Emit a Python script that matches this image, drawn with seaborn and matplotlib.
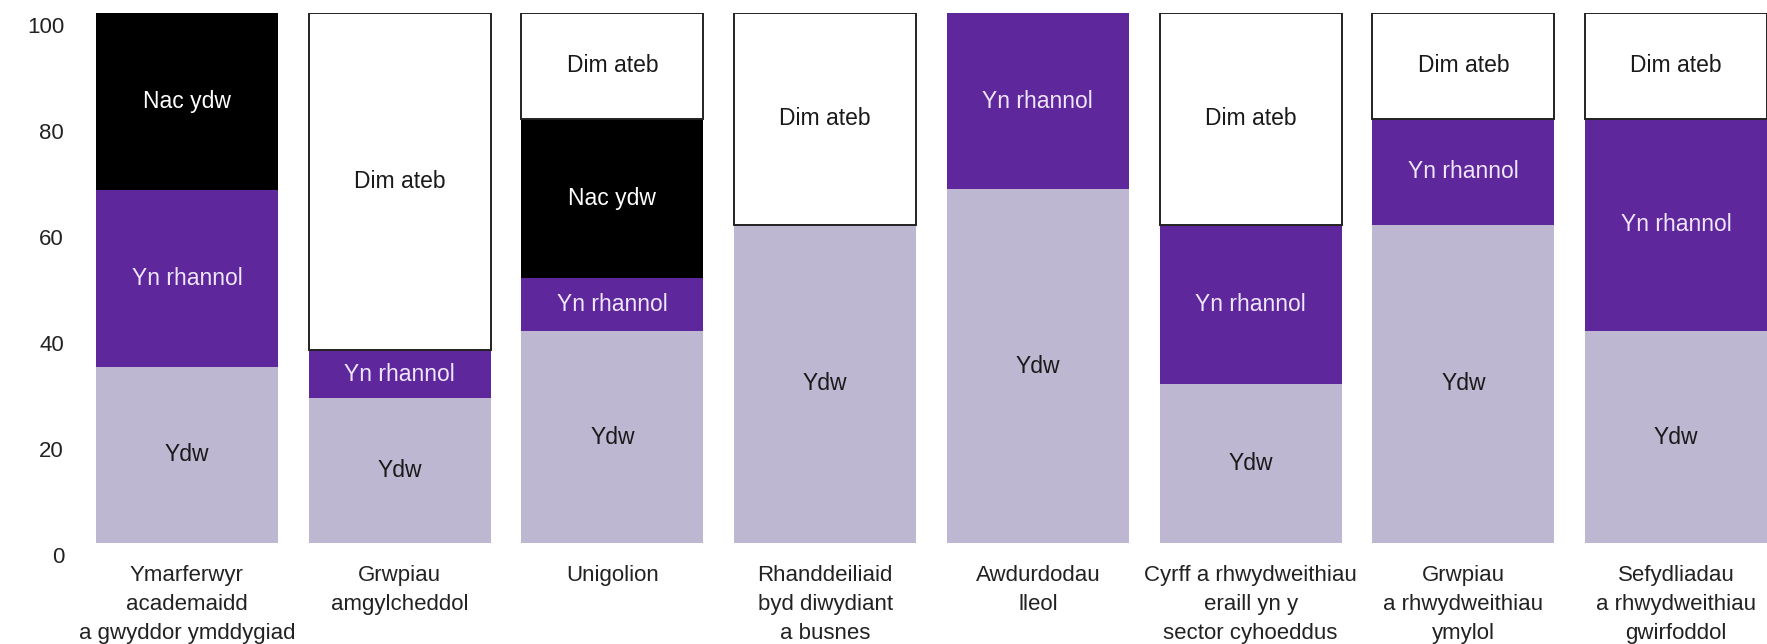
import numpy as np
import pandas as pd
import matplotlib
matplotlib.use("Agg")
import matplotlib.pyplot as plt
from matplotlib.transforms import ScaledTranslation
import seaborn as sns

categories = [
    "Ymarferwyr\nacademaidd\na gwyddor ymddygiad",
    "Grwpiau\namgylcheddol",
    "Unigolion",
    "Rhanddeiliaid\nbyd diwydiant\na busnes",
    "Awdurdodau\nlleol",
    "Cyrff a rhwydweithiau\neraill yn y\nsector cyhoeddus",
    "Grwpiau\na rhwydweithiau\nymylol",
    "Sefydliadau\na rhwydweithiau\ngwirfoddol",
]
series_names = ["Ydw", "Yn rhannol", "Nac ydw", "Dim ateb"]
ydw = [33.3, 27.3, 40, 60, 66.7, 30, 60, 40]
yn_rhannol = [33.3, 9.1, 10, 0, 33.3, 30, 20, 40]
nac_ydw = [33.4, 0, 30, 0, 0, 0, 0, 0]
dim_ateb = [0, 63.6, 20, 40, 0, 40, 20, 20]
yticks = [0, 20, 40, 60, 80, 100]

values = [ydw, yn_rhannol, nac_ydw, dim_ateb]
facecolors = ["#bdb7d2", "#5e289c", "#000000", "#ffffff"]
edgecolors = ["none", "none", "none", "#222222"]
linewidths = [0, 0, 0, 1.4]
textcolors = ["#1a1a1a", "#efe6fb", "#ffffff", "#1a1a1a"]

sns.set_theme(style="white")
plt.rcParams["font.family"] = ["Liberation Sans Narrow", "Liberation Sans", "DejaVu Sans"]

fig = plt.figure(figsize=(17.67, 6.44), dpi=100)
ax = fig.add_axes([96 / 1767, 101 / 644, 1 - 96 / 1767, (543 - 13) / 644])

width = 0.855
bottom = np.zeros(len(categories))
for name, vals, fc, ec, lw, tc in zip(series_names, values, facecolors, edgecolors, linewidths, textcolors):
    df = pd.DataFrame({"cat": categories, "val": vals})
    n_before = len(ax.patches)
    sns.barplot(data=df, x="cat", y="val", order=categories, bottom=bottom.copy(),
                color=fc, width=width, edgecolor=ec, linewidth=lw, saturation=1,
                errorbar=None, ax=ax)
    patches = ax.patches[n_before:]
    for p, v in zip(patches, vals):
        if v <= 0:
            p.set_visible(False)
            continue
        p.set_facecolor(fc)
        ax.text(p.get_x() + p.get_width() / 2, p.get_y() + p.get_height() / 2, name,
                ha="center", va="center", color=tc, fontsize=16.5)
    bottom = bottom + np.array(vals)

ax.set_xlim(-width / 2, len(categories) - 1 + width / 2)
ax.set_ylim(0, 100)
ax.set_yticks(yticks)
ax.set_yticklabels([str(t) for t in yticks], fontsize=16, color="#222222",
                   family=["Liberation Sans", "DejaVu Sans"])
ax.tick_params(axis="y", length=0, pad=23)
ax.tick_params(axis="x", length=0, pad=16, labelsize=16, labelcolor="#222222")
off = ScaledTranslation(0, -12 / 100, fig.dpi_scale_trans)
for lab in ax.get_yticklabels():
    lab.set_horizontalalignment("right")
    lab.set_transform(lab.get_transform() + off)
for lab in ax.get_xticklabels():
    lab.set_linespacing(1.5)
    lab.set_verticalalignment("top")
ax.set_xlabel("")
ax.set_ylabel("")
for s in ax.spines.values():
    s.set_visible(False)
ax.grid(False)

fig.savefig("out.png", dpi=100, facecolor="white")
